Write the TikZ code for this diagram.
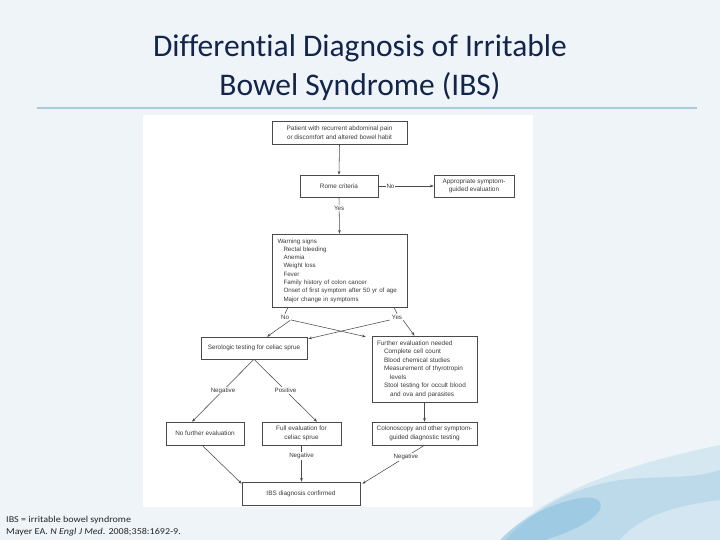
\documentclass[tikz,border=0pt]{standalone}
\usepackage{fontspec}
\setmainfont{Carlito}[Ligatures=NoCommon]
\newfontfamily\boxfont{Liberation Sans}
\usetikzlibrary{arrows.meta,calc}
\definecolor{bg}{HTML}{EEF4F8}
\definecolor{titlecol}{HTML}{13254A}
\definecolor{rulecol}{HTML}{A9CADB}
\definecolor{linecol}{HTML}{4A4A4A}
\definecolor{txtcol}{HTML}{3A3A3A}
\definecolor{wash}{HTML}{8EC3DF}
\definecolor{washdark}{HTML}{5FA8D3}
\tikzset{
  box/.style={draw=linecol, line width=0.55pt, fill=white, text=txtcol, font=\boxfont\fontsize{6.4}{8.5}\selectfont, align=center, inner sep=2pt},
  lbl/.style={fill=white, text=txtcol, font=\boxfont\fontsize{6.2}{7}\selectfont, inner sep=1pt},
  conn/.style={draw=linecol, line width=0.55pt},
  arr/.style={conn, -{Stealth[length=3.8pt,width=2.8pt]}},
  titletext/.style={text=titlecol, font=\fontsize{31.5}{39}\selectfont, anchor=base, inner sep=0pt}
}
\begin{document}
\begin{tikzpicture}[x=1pt,y=-1pt]
\useasboundingbox (0,0) rectangle (720,540);
\fill[bg] (0,0) rectangle (720,540);
% watercolor corner
\fill[wash, opacity=0.25] (500,540) .. controls (540,500) and (600,470) .. (720,445) -- (720,540) -- cycle;
\fill[wash, opacity=0.35] (505,540) .. controls (530,515) and (560,490) .. (620,480) .. controls (660,475) and (690,480) .. (720,470) -- (720,540) -- cycle;
\fill[washdark, opacity=0.3] (500,540) .. controls (520,520) and (545,505) .. (580,498) .. controls (600,495) and (610,505) .. (590,520) .. controls (575,530) and (560,535) .. (545,540) -- cycle;
\fill[white, opacity=0.35] (620,540) .. controls (640,515) and (680,505) .. (720,500) -- (720,540) -- cycle;
% title
\node[titletext] (title1) at (360,57) {Differential Diagnosis of Irritable};
\node[titletext] (title2) at (360,96) {Bowel Syndrome (IBS)};
\draw[rulecol, line width=1.5pt] (37,108) -- (697,108);
% panel
\fill[white] (143,115) rectangle (533,507);
% boxes
\node[box, minimum width=135pt, minimum height=23pt] (patient) at (339.5,132.5) {Patient with recurrent abdominal pain\\or discomfort and altered bowel habit};
\node[box, minimum width=78pt, minimum height=22pt] (rome) at (339,186) {Rome criteria};
\node[box, minimum width=80pt, minimum height=22pt] (approp) at (474,186) {Appropriate symptom-\\guided evaluation};
\node[box, minimum width=135pt, minimum height=73pt, align=left, inner xsep=5.5pt, text width=124pt, font=\boxfont\fontsize{6.2}{8.3}\selectfont] (warn) at (339.5,270.5) {Warning signs\\
\hspace*{6pt}Rectal bleeding\\
\hspace*{6pt}Anemia\\
\hspace*{6pt}Weight loss\\
\hspace*{6pt}Fever\\
\hspace*{6pt}Family history of colon cancer\\
\hspace*{6pt}Onset of first symptom after 50 yr of age\\
\hspace*{6pt}Major change in symptoms};
\node[box, minimum width=106pt, minimum height=22pt] (sero) at (254,348) {Serologic testing for celiac sprue};
\node[box, minimum width=105pt, minimum height=66pt, align=left, inner xsep=5pt, text width=95pt] (further) at (424.5,369) {Further evaluation needed\\
\hspace*{7pt}Complete cell count\\
\hspace*{7pt}Blood chemical studies\\
\hspace*{7pt}Measurement of thyrotropin\\
\hspace*{13pt}levels\\
\hspace*{7pt}Stool testing for occult blood\\
\hspace*{13pt}and ova and parasites};
\node[box, minimum width=78pt, minimum height=23pt] (nofurther) at (205,433.5) {No further evaluation};
\node[box, minimum width=79pt, minimum height=23pt] (full) at (301.5,433.5) {Full evaluation for\\celiac sprue};
\node[box, minimum width=105pt, minimum height=23pt] (colon) at (424.5,433.5) {Colonoscopy and other symptom-\\guided diagnostic testing};
\node[box, minimum width=118pt, minimum height=23pt] (ibs) at (301,493.5) {IBS diagnosis confirmed};
% labels under warning box
\node[lbl] (lno) at (285,317) {No};
\node[lbl] (lyes) at (397,317) {Yes};
% connectors
\draw[arr] (patient.south) -- (rome.north);
\draw[arr] (rome.east) -- node[lbl, pos=0.22]{No} (approp.west);
\draw[arr] (rome.south) -- node[lbl, pos=0.3]{Yes} (warn.north);
\draw[conn] (lno.north) -- ($(lno.north |- warn.south)+(3,0)$);
\draw[conn] (lyes.north) -- ($(lyes.north |- warn.south)+(-3,0)$);
\draw[arr] (lno.south east) -- ($(sero.north)+(13,0)$);
\draw[arr] (lyes.south east) -- ($(further.north)+(-10,0)$);
\draw[arr] ($(lno.east)+(1,3)$) -- ($(further.north west)+(-6,1)$);
\draw[arr] ($(lyes.west)+(-1,3)$) -- ($(sero.north east)+(1,2)$);
\draw[arr] (sero.south) -- node[lbl]{Negative} ($(nofurther.north)+(-13,0)$);
\draw[arr] (sero.south) -- node[lbl]{Positive} ($(full.north)+(15.5,0)$);
\draw[arr] (further.south) -- (colon.north);
\draw[arr] ($(nofurther.south)+(-3,0)$) -- ($(ibs.north west)+(0,2)$);
\draw[arr] (full.south) -- node[lbl, pos=0.3]{Negative} (full.south |- ibs.north);
\draw[arr] (colon.south) -- node[lbl, pos=0.3]{Negative} ($(ibs.north east)+(2,2)$);
% footnote
\node[anchor=base west, font=\fontsize{9}{12}\selectfont, text=black!85, inner sep=0pt, xscale=1.12] (foot1) at (6,522) {IBS = irritable bowel syndrome};
\node[anchor=base west, font=\fontsize{9}{12}\selectfont, text=black!85, inner sep=0pt, xscale=1.12] (foot2) at (6,534) {Mayer EA. \textit{N Engl J Med}. 2008;358:1692-9.};
\end{tikzpicture}
\end{document}
